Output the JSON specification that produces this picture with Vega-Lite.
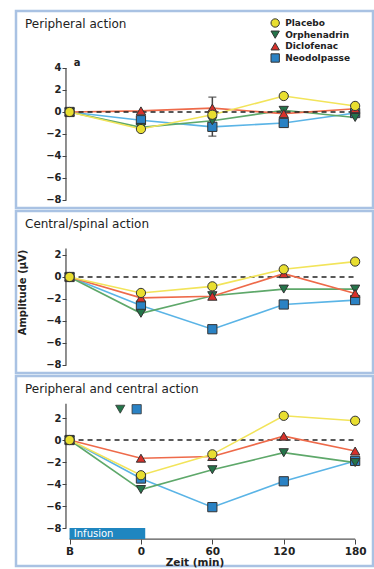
{
  "$schema": "https://vega.github.io/schema/vega-lite/v6.json",
  "padding": {"left": 14, "top": 9, "right": 3, "bottom": 0},
  "background": "white",
  "spacing": -1,
  "config": {
    "view": {"stroke": "#a9c2e3", "strokeWidth": 2.5},
    "font": "DejaVu Sans",
    "axis": {"labelFont": "DejaVu Sans", "titleFont": "DejaVu Sans", "labelColor": "#222", "tickColor": "#444", "grid": false, "domain": false}
  },
  "datasets": {
    "p1": [
      {"series": "Neodolpasse", "x": 0, "y": 0}, {"series": "Neodolpasse", "x": 1, "y": -0.75}, {"series": "Neodolpasse", "x": 2, "y": -1.35}, {"series": "Neodolpasse", "x": 3, "y": -1.0}, {"series": "Neodolpasse", "x": 4, "y": -0.1},
      {"series": "Orphenadrin", "x": 0, "y": 0}, {"series": "Orphenadrin", "x": 1, "y": -1.4}, {"series": "Orphenadrin", "x": 2, "y": -0.8}, {"series": "Orphenadrin", "x": 3, "y": 0.15}, {"series": "Orphenadrin", "x": 4, "y": -0.5},
      {"series": "Diclofenac", "x": 0, "y": 0}, {"series": "Diclofenac", "x": 1, "y": 0.1}, {"series": "Diclofenac", "x": 2, "y": 0.35}, {"series": "Diclofenac", "x": 3, "y": -0.15}, {"series": "Diclofenac", "x": 4, "y": 0.3},
      {"series": "Placebo", "x": 0, "y": 0}, {"series": "Placebo", "x": 1, "y": -1.55}, {"series": "Placebo", "x": 2, "y": -0.25}, {"series": "Placebo", "x": 3, "y": 1.45}, {"series": "Placebo", "x": 4, "y": 0.55}
    ],
    "p2": [
      {"series": "Neodolpasse", "x": 0, "y": 0}, {"series": "Neodolpasse", "x": 1, "y": -2.6}, {"series": "Neodolpasse", "x": 2, "y": -4.75}, {"series": "Neodolpasse", "x": 3, "y": -2.5}, {"series": "Neodolpasse", "x": 4, "y": -2.1},
      {"series": "Orphenadrin", "x": 0, "y": 0}, {"series": "Orphenadrin", "x": 1, "y": -3.3}, {"series": "Orphenadrin", "x": 2, "y": -1.7}, {"series": "Orphenadrin", "x": 3, "y": -1.1}, {"series": "Orphenadrin", "x": 4, "y": -1.1},
      {"series": "Diclofenac", "x": 0, "y": 0}, {"series": "Diclofenac", "x": 1, "y": -1.9}, {"series": "Diclofenac", "x": 2, "y": -1.75}, {"series": "Diclofenac", "x": 3, "y": 0.3}, {"series": "Diclofenac", "x": 4, "y": -1.5},
      {"series": "Placebo", "x": 0, "y": 0}, {"series": "Placebo", "x": 1, "y": -1.45}, {"series": "Placebo", "x": 2, "y": -0.85}, {"series": "Placebo", "x": 3, "y": 0.7}, {"series": "Placebo", "x": 4, "y": 1.4}
    ],
    "p3": [
      {"series": "Neodolpasse", "x": 0, "y": 0}, {"series": "Neodolpasse", "x": 1, "y": -3.5}, {"series": "Neodolpasse", "x": 2, "y": -6.1}, {"series": "Neodolpasse", "x": 3, "y": -3.75}, {"series": "Neodolpasse", "x": 4, "y": -1.9},
      {"series": "Orphenadrin", "x": 0, "y": 0}, {"series": "Orphenadrin", "x": 1, "y": -4.5}, {"series": "Orphenadrin", "x": 2, "y": -2.7}, {"series": "Orphenadrin", "x": 3, "y": -1.15}, {"series": "Orphenadrin", "x": 4, "y": -2.05},
      {"series": "Diclofenac", "x": 0, "y": 0}, {"series": "Diclofenac", "x": 1, "y": -1.65}, {"series": "Diclofenac", "x": 2, "y": -1.5}, {"series": "Diclofenac", "x": 3, "y": 0.35}, {"series": "Diclofenac", "x": 4, "y": -1.0},
      {"series": "Placebo", "x": 0, "y": 0}, {"series": "Placebo", "x": 1, "y": -3.2}, {"series": "Placebo", "x": 2, "y": -1.3}, {"series": "Placebo", "x": 3, "y": 2.2}, {"series": "Placebo", "x": 4, "y": 1.75}
    ],
    "legend": [{"series": "Placebo"}, {"series": "Orphenadrin"}, {"series": "Diclofenac"}, {"series": "Neodolpasse"}],
    "sig3": [
      {"series": "Orphenadrin", "x": 0.71, "y": 2.8},
      {"series": "Neodolpasse", "x": 0.94, "y": 2.8}
    ],
    "zero": [{"x": 0, "x2": 4, "y": 0}],
    "yax1": [{"x": -0.05, "y": -8, "y2": 4}],
    "yax2": [{"x": -0.05, "y": -8, "y2": 2.6}],
    "yax3": [{"x": -0.05, "y": -8, "y2": 3.3}],
    "xax3": [{"x": 0, "x2": 4, "y": -9}],
    "err1": [{"x": 2, "y": -2.2, "y2": 1.35}],
    "errcap1": [{"x": 2, "y": -2.2}, {"x": 2, "y": 1.35}],
    "lab1": [{"x": 0.06, "y": 4.45, "label": "a"}],
    "inf": [{"x": 0, "x2": 1.06, "y": -9, "y2": -8}],
    "inflab": [{"x": 0.06, "y": -8.5, "label": "Infusion"}]
  },
  "vconcat": [
    {
      "width": 357, "height": 197,
      "title": {"text": "Peripheral action", "anchor": "start", "offset": -20, "dx": 9, "fontSize": 12, "fontWeight": "normal", "font": "DejaVu Sans", "color": "#222"},
      "resolve": {"scale": {"y": "independent"}, "axis": {"y": "independent"}},
      "layer": [
        {
          "encoding": {
            "x": {"field": "x", "type": "quantitative", "scale": {"domain": [-0.75, 4.25], "nice": false, "zero": false}, "axis": null},
            "y": {"field": "y", "type": "quantitative", "scale": {"domain": [-8.73, 9.18], "nice": false, "zero": false}, "axis": {"values": [-8, -6, -4, -2, 0, 2, 4], "offset": -50, "title": null, "labelFontSize": 10, "labelFontWeight": "bold", "tickSize": 4, "labelPadding": 1}}
          },
          "layer": [
            {"data": {"name": "yax1"}, "mark": {"type": "rule", "stroke": "#444", "strokeWidth": 1.2}, "encoding": {"y2": {"field": "y2"}}},
            {"data": {"name": "p1"}, "mark": {"type": "line", "strokeWidth": 1.6}, "encoding": {"stroke": {"field": "series", "type": "nominal", "scale": {"domain": ["Placebo", "Orphenadrin", "Diclofenac", "Neodolpasse"], "range": ["#f2e45a", "#5ea86a", "#ee6a4a", "#5ab4e6"]}, "legend": null}}},
            {"data": {"name": "zero"}, "mark": {"type": "rule", "stroke": "#222", "strokeWidth": 1.5, "strokeDash": [5, 4]}, "encoding": {"x2": {"field": "x2"}}},
            {"data": {"name": "err1"}, "mark": {"type": "rule", "stroke": "#444", "strokeWidth": 1.5}, "encoding": {"y2": {"field": "y2"}}},
            {"data": {"name": "errcap1"}, "mark": {"type": "tick", "orient": "horizontal", "color": "#444", "size": 8, "thickness": 1.5}, "encoding": {}},
            {"data": {"name": "p1"}, "mark": {"type": "point", "filled": true, "stroke": "#333", "strokeWidth": 1, "opacity": 1, "size": 85},
              "encoding": {
                "color": {"field": "series", "type": "nominal", "scale": {"domain": ["Placebo", "Orphenadrin", "Diclofenac", "Neodolpasse"], "range": ["#e8de30", "#24754a", "#d8302a", "#2a82c4"]}, "legend": null},
                "shape": {"field": "series", "type": "nominal", "scale": {"domain": ["Placebo", "Orphenadrin", "Diclofenac", "Neodolpasse"], "range": ["circle", "triangle-down", "triangle-up", "square"]}, "legend": null}
              }},
            {"data": {"name": "lab1"}, "mark": {"type": "text", "align": "left", "baseline": "middle", "fontSize": 10, "fontWeight": "bold", "color": "#222"}, "encoding": {"text": {"field": "label"}}}
          ]
        },
        {
          "data": {"name": "legend"},
          "encoding": {
            "y": {"field": "series", "type": "nominal", "sort": null, "scale": {"type": "point", "domain": ["Placebo", "Orphenadrin", "Diclofenac", "Neodolpasse"], "range": [12, 47], "padding": 0}, "axis": null}
          },
          "layer": [
            {"mark": {"type": "point", "filled": true, "stroke": "#333", "strokeWidth": 1, "opacity": 1, "size": 70},
              "encoding": {
                "x": {"datum": 2.88, "type": "quantitative"},
                "color": {"field": "series", "type": "nominal", "scale": {"domain": ["Placebo", "Orphenadrin", "Diclofenac", "Neodolpasse"], "range": ["#e8de30", "#24754a", "#d8302a", "#2a82c4"]}, "legend": null},
                "shape": {"field": "series", "type": "nominal", "scale": {"domain": ["Placebo", "Orphenadrin", "Diclofenac", "Neodolpasse"], "range": ["circle", "triangle-down", "triangle-up", "square"]}, "legend": null}
              }},
            {"mark": {"type": "text", "align": "left", "baseline": "middle", "fontSize": 9, "fontWeight": "bold", "color": "#222"},
              "encoding": {
                "x": {"datum": 3.02, "type": "quantitative"},
                "text": {"field": "series"}
              }}
          ]
        }
      ]
    },
    {
      "width": 357, "height": 162,
      "title": {"text": "Central/spinal action", "anchor": "start", "offset": -20, "dx": 9, "fontSize": 12, "fontWeight": "normal", "font": "DejaVu Sans", "color": "#222"},
      "encoding": {
        "x": {"field": "x", "type": "quantitative", "scale": {"domain": [-0.75, 4.25], "nice": false, "zero": false}, "axis": null},
        "y": {"field": "y", "type": "quantitative", "scale": {"domain": [-8.73, 6.0], "nice": false, "zero": false}, "axis": {"values": [-8, -6, -4, -2, 0, 2], "offset": -50, "title": "Amplitude (µV)", "titleFontSize": 10, "titleFontWeight": "bold", "titlePadding": 18, "titleColor": "#222", "labelFontSize": 10, "labelFontWeight": "bold", "tickSize": 4, "labelPadding": 1}}
      },
      "layer": [
        {"data": {"name": "yax2"}, "mark": {"type": "rule", "stroke": "#444", "strokeWidth": 1.2}, "encoding": {"y2": {"field": "y2"}}},
        {"data": {"name": "zero"}, "mark": {"type": "rule", "stroke": "#222", "strokeWidth": 1.5, "strokeDash": [5, 4]}, "encoding": {"x2": {"field": "x2"}}},
        {"data": {"name": "p2"}, "mark": {"type": "line", "strokeWidth": 1.6}, "encoding": {"stroke": {"field": "series", "type": "nominal", "scale": {"domain": ["Placebo", "Orphenadrin", "Diclofenac", "Neodolpasse"], "range": ["#f2e45a", "#5ea86a", "#ee6a4a", "#5ab4e6"]}, "legend": null}}},
        {"data": {"name": "p2"}, "mark": {"type": "point", "filled": true, "stroke": "#333", "strokeWidth": 1, "opacity": 1, "size": 85},
          "encoding": {
            "color": {"field": "series", "type": "nominal", "scale": {"domain": ["Placebo", "Orphenadrin", "Diclofenac", "Neodolpasse"], "range": ["#e8de30", "#24754a", "#d8302a", "#2a82c4"]}, "legend": null},
            "shape": {"field": "series", "type": "nominal", "scale": {"domain": ["Placebo", "Orphenadrin", "Diclofenac", "Neodolpasse"], "range": ["circle", "triangle-down", "triangle-up", "square"]}, "legend": null}
          }}
      ]
    },
    {
      "width": 357, "height": 190,
      "title": {"text": "Peripheral and central action", "anchor": "start", "offset": -20, "dx": 9, "fontSize": 12, "fontWeight": "normal", "font": "DejaVu Sans", "color": "#222"},
      "encoding": {
        "x": {"field": "x", "type": "quantitative", "scale": {"domain": [-0.75, 4.25], "nice": false, "zero": false}, "axis": {"values": [0, 1, 2, 3, 4], "labelExpr": "['B','0','60','120','180'][datum.value]", "offset": -27, "title": "Zeit (min)", "titleFontSize": 10.5, "titleFontWeight": "bold", "titleColor": "#222", "titlePadding": 1, "labelFontSize": 10.5, "labelFontWeight": "bold", "tickSize": 5, "labelPadding": 2}},
        "y": {"field": "y", "type": "quantitative", "scale": {"domain": [-11.45, 5.82], "nice": false, "zero": false}, "axis": {"values": [-8, -6, -4, -2, 0, 2], "offset": -50, "title": null, "labelFontSize": 10, "labelFontWeight": "bold", "tickSize": 4, "labelPadding": 1}}
      },
      "layer": [
        {"data": {"name": "yax3"}, "mark": {"type": "rule", "stroke": "#444", "strokeWidth": 1.2}, "encoding": {"y2": {"field": "y2"}}},
        {"data": {"name": "xax3"}, "mark": {"type": "rule", "stroke": "#555", "strokeWidth": 1.2}, "encoding": {"x2": {"field": "x2"}}},
        {"data": {"name": "inf"}, "mark": {"type": "rect", "fill": "#1f86c0"}, "encoding": {"x2": {"field": "x2"}, "y2": {"field": "y2"}}},
        {"data": {"name": "inflab"}, "mark": {"type": "text", "align": "left", "baseline": "middle", "fontSize": 10, "color": "white"}, "encoding": {"text": {"field": "label"}}},
        {"data": {"name": "zero"}, "mark": {"type": "rule", "stroke": "#222", "strokeWidth": 1.5, "strokeDash": [5, 4]}, "encoding": {"x2": {"field": "x2"}}},
        {"data": {"name": "p3"}, "mark": {"type": "line", "strokeWidth": 1.6}, "encoding": {"stroke": {"field": "series", "type": "nominal", "scale": {"domain": ["Placebo", "Orphenadrin", "Diclofenac", "Neodolpasse"], "range": ["#f2e45a", "#5ea86a", "#ee6a4a", "#5ab4e6"]}, "legend": null}}},
        {"data": {"name": "p3"}, "mark": {"type": "point", "filled": true, "stroke": "#333", "strokeWidth": 1, "opacity": 1, "size": 85},
          "encoding": {
            "color": {"field": "series", "type": "nominal", "scale": {"domain": ["Placebo", "Orphenadrin", "Diclofenac", "Neodolpasse"], "range": ["#e8de30", "#24754a", "#d8302a", "#2a82c4"]}, "legend": null},
            "shape": {"field": "series", "type": "nominal", "scale": {"domain": ["Placebo", "Orphenadrin", "Diclofenac", "Neodolpasse"], "range": ["circle", "triangle-down", "triangle-up", "square"]}, "legend": null}
          }},
        {"data": {"name": "sig3"}, "mark": {"type": "point", "filled": true, "stroke": "#333", "strokeWidth": 0.8, "opacity": 1, "size": 85},
          "encoding": {
            "color": {"field": "series", "type": "nominal", "scale": {"domain": ["Placebo", "Orphenadrin", "Diclofenac", "Neodolpasse"], "range": ["#e8de30", "#24754a", "#d8302a", "#2a82c4"]}, "legend": null},
            "shape": {"field": "series", "type": "nominal", "scale": {"domain": ["Placebo", "Orphenadrin", "Diclofenac", "Neodolpasse"], "range": ["circle", "triangle-down", "triangle-up", "square"]}, "legend": null}
          }}
      ]
    }
  ]
}
